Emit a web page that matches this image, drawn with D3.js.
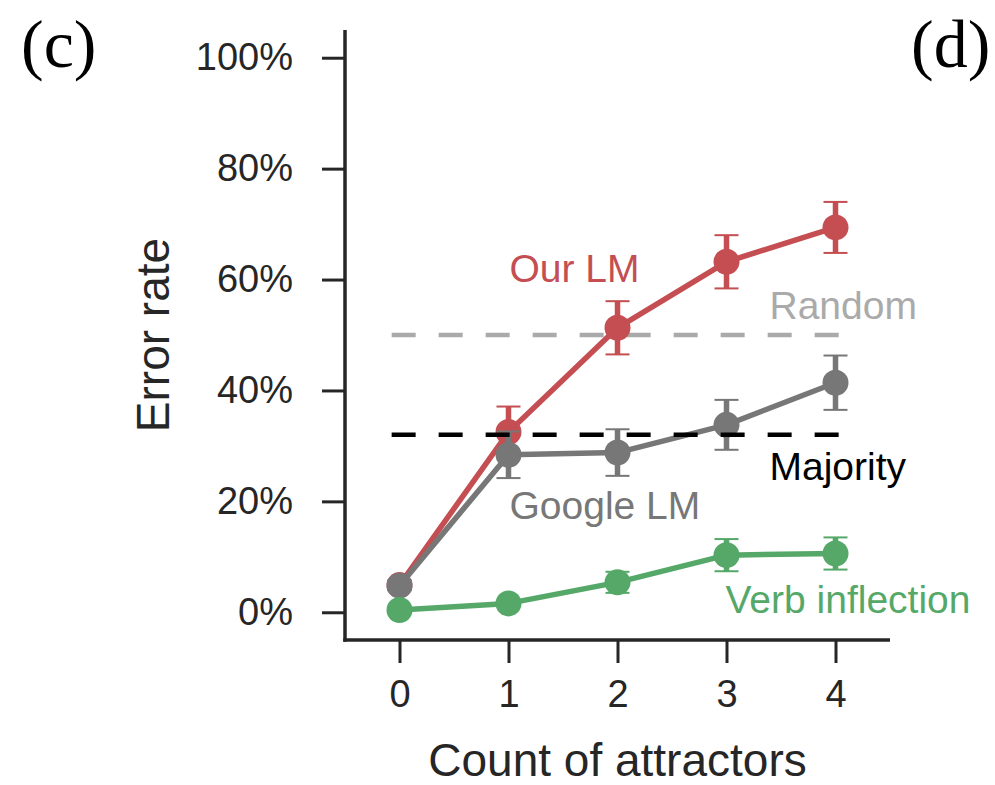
<!DOCTYPE html>
<html>
<head>
<meta charset="utf-8">
<script src="https://cdn.jsdelivr.net/npm/d3@7/dist/d3.min.js"></script>
<style>
  html, body { margin: 0; padding: 0; background: #fff; }
  svg { display: block; }
</style>
</head>
<body>
<svg id="chart" width="995" height="785"></svg>
<script>
// Agreement error rate by number of attractors
const attractors = [0, 1, 2, 3, 4];
const xTickLabels = ["0", "1", "2", "3", "4"];
const yTicks = [0, 20, 40, 60, 80, 100];

// values in percent, with error-bar half widths
const ourLM      = [4.9, 32.5, 51.3, 63.2, 69.4];
const ourLMErr   = [0.9, 4.6, 4.8, 4.8, 4.6];
const googleLM   = [4.8, 28.4, 28.8, 33.8, 41.4];
const googleErr  = [0.8, 4.2, 4.2, 4.5, 4.9];
const verbInfl   = [0.4, 1.6, 5.4, 10.3, 10.6];
const verbErr    = [0.3, 0.5, 1.9, 2.9, 2.9];
const randomRate = 50;
const majorityRate = 32;

const seriesNames = ["Our LM", "Google LM", "Verb inflection"];

const svg = d3.select("#chart");

const x = d3.scaleLinear().domain([-0.5, 4.5]).range([345, 890]);
const y = d3.scaleLinear().domain([-5, 105]).range([640, 30]);

const ink = "#262626";
const sans = "'Liberation Sans', Arial, sans-serif";
const serif = "'Liberation Serif', 'Times New Roman', serif";

// axes
const yAxis = d3.axisLeft(y).tickValues(yTicks).tickFormat(d => d + "%")
  .tickSize(23).tickPadding(29);
const xAxis = d3.axisBottom(x).tickValues(attractors).tickFormat((d, i) => xTickLabels[i])
  .tickSize(23).tickPadding(17);

const gy = svg.append("g").attr("transform", "translate(345,0)").call(yAxis);
const gx = svg.append("g").attr("transform", "translate(0,640)").call(xAxis);

[gy, gx].forEach(g => {
  g.select(".domain").remove();
  g.selectAll(".tick line").attr("stroke", ink).attr("stroke-width", 3);
  g.selectAll(".tick text").attr("fill", ink).style("font-family", sans).style("font-size", "38px");
});

// spines
svg.append("line").attr("x1", 345).attr("x2", 345).attr("y1", 30).attr("y2", 641.75)
  .attr("stroke", ink).attr("stroke-width", 3.5);
svg.append("line").attr("x1", 343.25).attr("x2", 890).attr("y1", 640).attr("y2", 640)
  .attr("stroke", ink).attr("stroke-width", 3.5);

// axis titles
svg.append("text").attr("x", x(2)).attr("y", 776).attr("text-anchor", "middle")
  .attr("fill", ink).style("font-family", sans).style("font-size", "46px")
  .text("Count of attractors");
svg.append("text").attr("transform", `translate(169,${(30 + 640) / 2}) rotate(-90)`)
  .attr("text-anchor", "middle").attr("fill", ink)
  .style("font-family", sans).style("font-size", "46px").text("Error rate");

// reference line helper
function refLine(value, color) {
  svg.append("line")
    .attr("x1", x(-0.072)).attr("x2", x(4.03))
    .attr("y1", y(value)).attr("y2", y(value))
    .attr("stroke", color).attr("stroke-width", 4.5)
    .attr("stroke-dasharray", "24,23");
}

// series helper: line, error bars, markers
function series(vals, errs, color) {
  const g = svg.append("g");
  const line = d3.line().x((d, i) => x(attractors[i])).y(d => y(d));
  g.append("path").datum(vals).attr("d", line)
    .attr("fill", "none").attr("stroke", color).attr("stroke-width", 5.5)
    .attr("stroke-linejoin", "round");
  const eb = g.selectAll(".eb").data(vals).join("g");
  eb.append("line")
    .attr("x1", (d, i) => x(attractors[i])).attr("x2", (d, i) => x(attractors[i]))
    .attr("y1", (d, i) => y(d - errs[i])).attr("y2", (d, i) => y(d + errs[i]))
    .attr("stroke", color).attr("stroke-width", 5.5);
  [-1, 1].forEach(s => {
    eb.append("line")
      .attr("x1", (d, i) => x(attractors[i]) - 12).attr("x2", (d, i) => x(attractors[i]) + 12)
      .attr("y1", (d, i) => y(d + s * errs[i])).attr("y2", (d, i) => y(d + s * errs[i]))
      .attr("stroke", color).attr("stroke-width", 2);
  });
  g.selectAll("circle").data(vals).join("circle")
    .attr("cx", (d, i) => x(attractors[i])).attr("cy", d => y(d))
    .attr("r", 13).attr("fill", color);
}

const red = "#c44e52", gray = "#777777", green = "#55a868";

refLine(randomRate, "#aaaaaa");
series(ourLM, ourLMErr, red);
series(googleLM, googleErr, gray);
series(verbInfl, verbErr, green);
refLine(majorityRate, "#000000");

// direct labels
function label(txt, xv, yv, color) {
  svg.append("text").attr("x", xv).attr("y", yv).attr("fill", color)
    .style("font-family", sans).style("font-size", "39px").text(txt);
}
label(seriesNames[0], x(1) + 1, 282, red);
label("Random", x(3) + 43, 319, "#aaaaaa");
label("Majority", x(3) + 43, 480, "#000000");
label(seriesNames[1], x(1) + 1, 519, gray);
label(seriesNames[2], x(3) - 1, 613, green);

// panel letters
svg.append("text").attr("x", 21).attr("y", 67).attr("fill", "#000")
  .style("font-family", serif).style("font-size", "68px").text("(c)");
svg.append("text").attr("x", 911).attr("y", 67).attr("fill", "#000")
  .style("font-family", serif).style("font-size", "68px").text("(d)");
</script>
</body>
</html>
